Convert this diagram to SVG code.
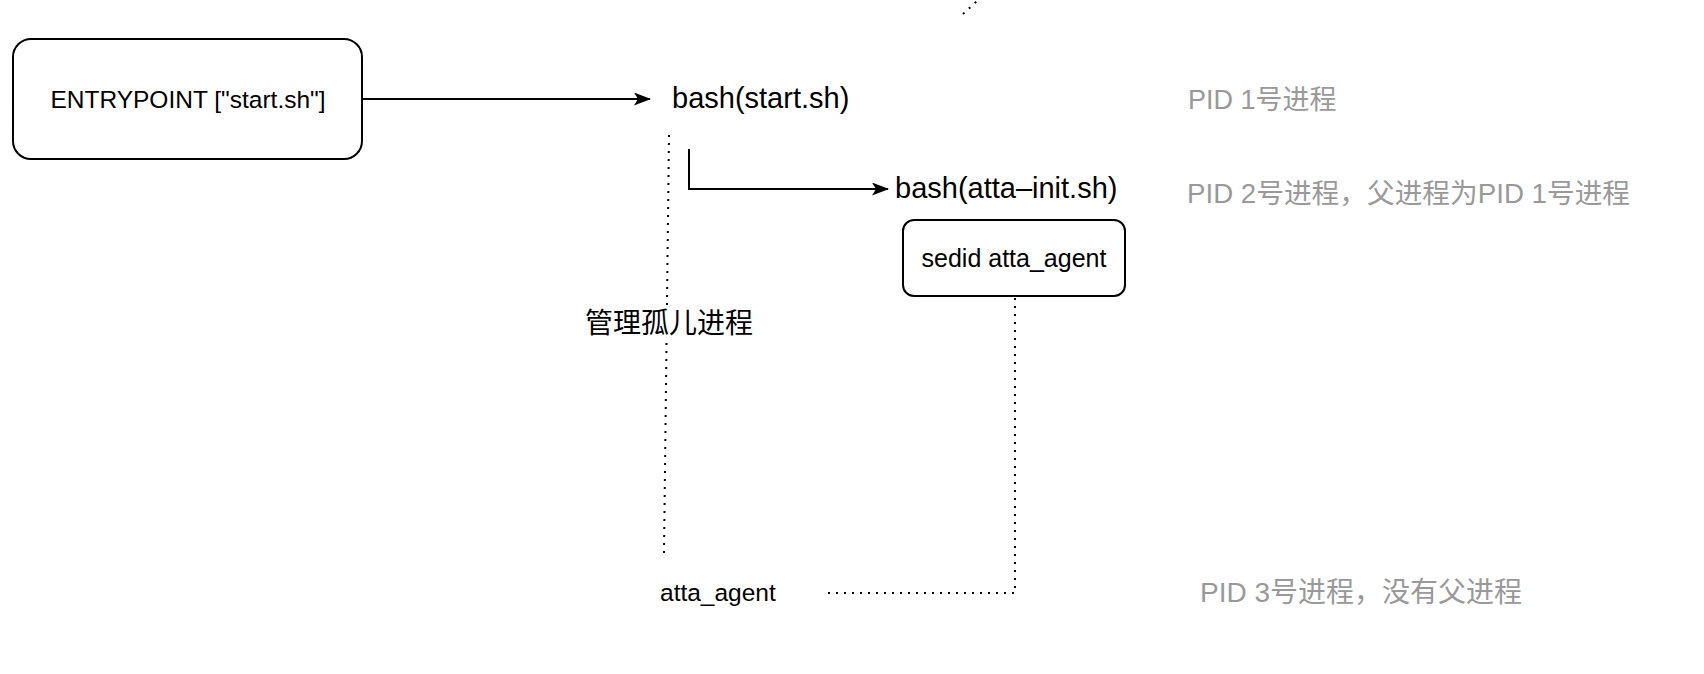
<svg xmlns="http://www.w3.org/2000/svg" width="1704" height="674" viewBox="0 0 1704 674">
<defs>
<style>
.box{fill:#fff;stroke:#000;stroke-width:2}
.edge{fill:none;stroke:#000;stroke-width:2}
.dot{fill:none;stroke:#000;stroke-width:2;stroke-dasharray:2 6}
.t{font-family:"Liberation Sans","Noto Sans CJK SC",Arial,sans-serif;fill:#000}
.g{font-family:"Liberation Sans","Noto Sans CJK SC",Arial,sans-serif;fill:#999}
</style>
<marker id="arr" viewBox="0 0 17 13" refX="16" refY="6.5" markerWidth="17" markerHeight="13" markerUnits="userSpaceOnUse" orient="auto">
<path d="M0,0 L17,6.5 L0,13 L4,6.5 Z" fill="#000"/>
</marker>
</defs>
<rect width="1704" height="674" fill="#fff"/>
<g id="connectors">
<path class="edge" d="M362,99 L650,99" marker-end="url(#arr)"/>
<path class="edge" d="M689,149 L689,189 L888,189" marker-end="url(#arr)"/>
<path class="dot" d="M669,135 L664,553"/>
<path class="dot" d="M1015,298 L1015,593 L828,593"/>
<path class="dot" d="M963,14 L977,1"/>
</g>
<g id="entrypoint">
<rect class="box" x="13" y="39" width="349" height="120" rx="18" ry="18"/>
<text class="t" x="188" y="107.5" font-size="24.5" text-anchor="middle">ENTRYPOINT ["start.sh"]</text>
</g>
<g id="bash-start">
<text class="t" x="672" y="108" font-size="29">bash(start.sh)</text>
</g>
<g id="bash-atta-init">
<text class="t" x="895" y="198" font-size="29">bash(atta–init.sh)</text>
</g>
<g id="sedid">
<rect class="box" x="903" y="220" width="222" height="76" rx="11" ry="11"/>
<text class="t" x="1014" y="267" font-size="25" text-anchor="middle">sedid atta_agent</text>
</g>
<g id="orphan-label">
<rect x="584" y="305" width="170" height="32" fill="#fff"/>
<text class="t" x="669" y="333" font-size="28" text-anchor="middle">管理孤儿进程</text>
</g>
<g id="atta-agent">
<text class="t" x="660" y="601" font-size="24.5">atta_agent</text>
</g>
<g id="pid1"><text class="g" x="1188" y="109" font-size="27">PID 1号进程</text></g>
<g id="pid2"><text class="g" x="1187" y="203" font-size="27.7">PID 2号进程，父进程为PID 1号进程</text></g>
<g id="pid3"><text class="g" x="1200" y="602" font-size="28">PID 3号进程，没有父进程</text></g>
</svg>
